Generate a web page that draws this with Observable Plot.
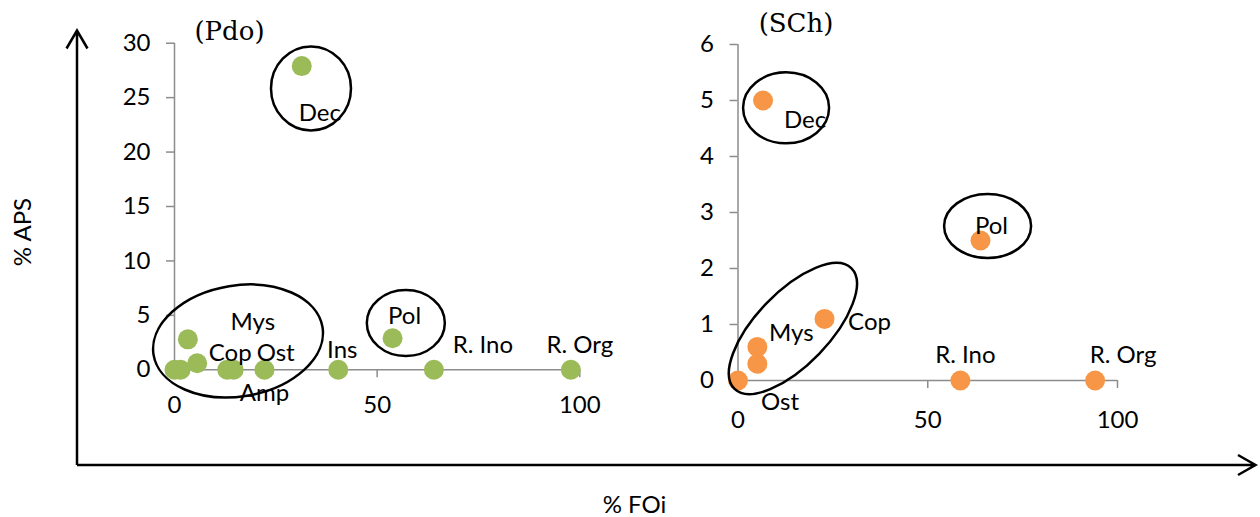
<!DOCTYPE html>
<html>
<head>
<meta charset="utf-8">
<script src="https://cdn.jsdelivr.net/npm/d3@7"></script>
<script src="https://cdn.jsdelivr.net/npm/@observablehq/plot@0.6"></script>
<style>
  body { margin: 0; background: #ffffff; }
  #chart { position: relative; width: 1260px; height: 517px; font-family: Lato, "Open Sans", sans-serif; overflow: hidden; }
  #chart > svg { position: absolute; top: 0; }
</style>
</head>
<body>
<div id="chart"></div>
<script>
// ---------- data ----------
const pdoItems = ["", "", "Mys", "Cop", "", "Ost", "Amp", "Ins", "Dec", "Pol", "R. Ino", "R. Org"];
const pdoFOi   = [0, 1.5, 3.3, 5.6, 13, 14.6, 22.2, 40.4, 31.4, 53.8, 64, 97.8];
const pdoAPS   = [0, 0, 2.8, 0.6, 0, 0, 0, 0, 27.9, 2.9, 0, 0];

const schItems = ["Ost", "", "Mys", "Cop", "Dec", "R. Ino", "Pol", "R. Org"];
const schFOi   = [0, 5.1, 5.1, 22.8, 6.6, 58.6, 63.9, 94.1];
const schAPS   = [0, 0.3, 0.6, 1.1, 5.0, 0, 2.5, 0];

const xTicks    = [0, 50, 100];
const pdoYTicks = [0, 5, 10, 15, 20, 25, 30];
const schYTicks = [0, 1, 2, 3, 4, 5, 6];

const panelTitles = ["(Pdo)", "(SCh)"];
const xTitle = "% FOi";
const yTitle = "% APS";

// ---------- layout / annotation (not data) ----------
const pdoLabelOffset = {Dec: [18, 47], Mys: [65, -17], Cop: [33, -10], Ost: [42, -16], Amp: [0, 24],
  Ins: [4, -19], Pol: [12, -22], "R. Ino": [49, -24], "R. Org": [9, -24]};
const schLabelOffset = {Dec: [42, 20], Cop: [45, 3], Mys: [34, -14], Ost: [42, 22],
  "R. Ino": [5, -25], "R. Org": [28, -25], Pol: [11, -14]};

// group rings: center in data units, radii in px
const pdoRings = [
  {x: 33.8, y: 25.8, rx: 40, ry: 42, rotate: 0},
  {x: 15.8, y: 2.6, rx: 85.6, ry: 55.5, rotate: -9.3},
  {x: 57.2, y: 4.25, rx: 39, ry: 33, rotate: 0}
];
const schRings = [
  {x: 12.8, y: 4.86, rx: 43, ry: 35.5, rotate: 0},
  {x: 14.6, y: 0.92, rx: 84, ry: 36.5, rotate: -46},
  {x: 65.9, y: 2.75, rx: 43.5, ry: 32, rotate: 0}
];

const axisGrey = "#8c8c8c";
const container = document.getElementById("chart");
const fmt = d => String(d);

function panel(cfg) {
  const rows = cfg.items.map((name, i) => ({name, fo: cfg.fo[i], aps: cfg.aps[i]}));
  const labelMarks = rows.filter(d => d.name).map(d =>
    Plot.text([d], {x: "fo", y: "aps", text: "name", fill: "black", fontSize: 24,
      dx: cfg.offsets[d.name][0], dy: cfg.offsets[d.name][1]}));
  const plot = Plot.plot({
    width: cfg.width, height: cfg.height,
    marginLeft: cfg.mL, marginRight: cfg.mR, marginTop: cfg.mT, marginBottom: cfg.mB,
    style: {fontFamily: "Lato, 'Open Sans', sans-serif", fontSize: "24px", background: "transparent", overflow: "visible", color: "black"},
    x: {domain: [0, 100]},
    y: {domain: [0, cfg.yTicks[cfg.yTicks.length - 1]]},
    marks: [
      Plot.ruleX([0], {stroke: axisGrey, strokeWidth: 1.5}),
      Plot.ruleY([0], {stroke: axisGrey, strokeWidth: 1.5}),
      Plot.axisX(xTicks, {tickSize: 8, tickPadding: cfg.xPad, tickFormat: fmt, stroke: axisGrey, strokeWidth: 1.5, fill: "black", label: null, fontSize: 24}),
      Plot.axisY(cfg.yTicks, {tickSize: 8, tickPadding: 16, tickFormat: fmt, stroke: axisGrey, strokeWidth: 1.5, fill: "black", label: null, fontSize: 24}),
      Plot.dot(rows, {x: "fo", y: "aps", r: 10, fill: cfg.color}),
      ...labelMarks
    ]
  });
  plot.style.left = cfg.left + "px";
  const sx = plot.scale("x"), sy = plot.scale("y");
  d3.select(plot).append("g")
    .selectAll("ellipse").data(cfg.rings).join("ellipse")
    .attr("cx", 0).attr("cy", 0)
    .attr("rx", d => d.rx).attr("ry", d => d.ry)
    .attr("transform", d => `translate(${sx.apply(d.x)},${sy.apply(d.y)}) rotate(${d.rotate})`)
    .attr("fill", "none").attr("stroke", "black").attr("stroke-width", 2.5);
  container.appendChild(plot);
}

panel({items: pdoItems, fo: pdoFOi, aps: pdoAPS, yTicks: pdoYTicks, color: "#9bbb59",
  offsets: pdoLabelOffset, rings: pdoRings, left: 0, width: 620, height: 430,
  mL: 174, mR: 40.7, mT: 42.7, mB: 60.7, xPad: 18});
panel({items: schItems, fo: schFOi, aps: schAPS, yTicks: schYTicks, color: "#f79646",
  offsets: schLabelOffset, rings: schRings, left: 620, width: 640, height: 430,
  mL: 117.5, mR: 143, mT: 44, mB: 50, xPad: 22});

// ---------- overall frame: arrows, axis titles, panel titles ----------
const ov = d3.select(container).append("svg")
  .attr("width", 1260).attr("height", 517)
  .style("left", "0px").style("pointer-events", "none");
const arrowG = ov.append("g").attr("fill", "none").attr("stroke", "black")
  .attr("stroke-width", 2.5).attr("stroke-linejoin", "miter");
arrowG.append("path").attr("d", "M77,465 V31 M66.5,48.5 L77,30.5 L87.5,48.5");
arrowG.append("path").attr("d", "M77,465 H1255 M1238,455 L1255.5,465 L1238,475");

ov.append("text").attr("x", 634.5).attr("y", 513).attr("text-anchor", "middle")
  .attr("font-family", "Lato, sans-serif").attr("font-size", 24).text(xTitle);
ov.append("text").attr("transform", "translate(31,232) rotate(-90)").attr("text-anchor", "middle")
  .attr("font-family", "Lato, sans-serif").attr("font-size", 24).text(yTitle);
ov.append("text").attr("x", 229.5).attr("y", 40).attr("text-anchor", "middle")
  .attr("font-family", "'DejaVu Serif', serif").attr("font-size", 26).text(panelTitles[0]);
ov.append("text").attr("x", 796).attr("y", 32).attr("text-anchor", "middle")
  .attr("font-family", "'DejaVu Serif', serif").attr("font-size", 26).text(panelTitles[1]);
</script>
</body>
</html>
